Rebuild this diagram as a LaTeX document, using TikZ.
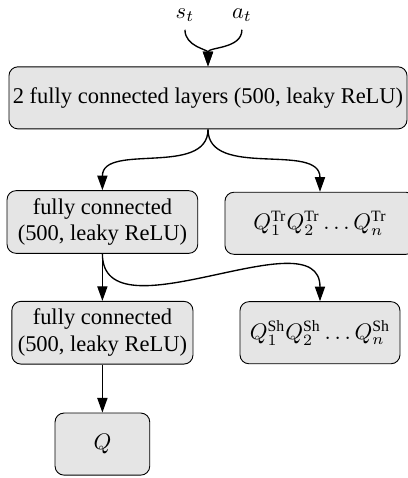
\documentclass[tikz,border=0pt]{standalone}
\usepackage{amsmath}
\usepackage[no-math]{fontspec}
\setmainfont{Liberation Serif}
\usetikzlibrary{arrows.meta}

\tikzset{
    layerbox/.style={draw, fill=gray!20, rounded corners=4pt, align=center,
        inner xsep=1pt, minimum height=0.97cm},
    arr/.style={semithick, -{Triangle[length=6.5pt, width=4.5pt]}}
}

\begin{document}
\begin{tikzpicture}
    \useasboundingbox (0,0) rectangle (6.375,7.469);

    % Inputs
    \node (s) at (2.89,7.23) {$s_t$};
    \node (a) at (3.78,7.23) {$a_t$};

    % Shared layers
    \node[layerbox, minimum width=6.22cm] (shared) at (3.25,5.94) {2 fully connected layers (500, leaky ReLU)};

    % Left branch
    \node[layerbox, minimum width=2.98cm] (fc1) at (1.60,4.00) {fully connected\\(500, leaky ReLU)};
    \node[layerbox, minimum width=2.83cm] (fc2) at (1.60,2.27) {fully connected\\(500, leaky ReLU)};
    \node[layerbox, minimum width=1.48cm] (q) at (1.60,0.53) {$Q$};

    % Right outputs
    \node[layerbox, minimum width=2.97cm] (qtr) at (5.00,3.98) {$Q_1^{\text{Tr}}Q_2^{\text{Tr}}\ldots Q_n^{\text{Tr}}$};
    \node[layerbox, minimum width=2.50cm] (qsh) at (5.00,2.27) {$Q_1^{\text{Sh}}Q_2^{\text{Sh}}\ldots Q_n^{\text{Sh}}$};

    % Connections
    \draw[arr] (s.south) to[out=-90, in=90] (shared.north);
    \draw[arr] (a.south) to[out=-90, in=90] (shared.north);
    \draw[arr] (shared.south) to[out=-90, in=90] (fc1.north);
    \draw[arr] (shared.south) to[out=-90, in=90] (qtr.north);
    \draw[arr] (fc1.south) -- (fc2.north);
    \draw[arr] (fc1.south) to[out=-90, in=90] (qsh.north);
    \draw[arr] (fc2.south) -- (q.north);
\end{tikzpicture}
\end{document}
